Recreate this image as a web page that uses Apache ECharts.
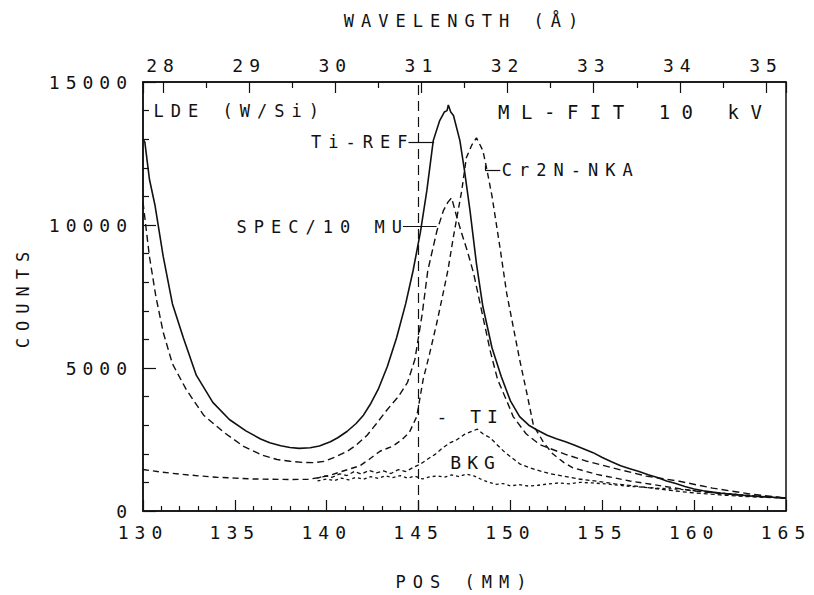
<!DOCTYPE html>
<html><head><meta charset="utf-8">
<script src="https://cdn.jsdelivr.net/npm/echarts@6.0.0/dist/echarts.min.js"></script>
<style>
html,body{margin:0;padding:0;background:#fff;}
#chart{width:814px;height:595px;}
#chart text{letter-spacing:6px;}
</style></head><body><div id="chart"></div>
<script>
// ---------------- data ----------------
const posTicks = [130, 135, 140, 145, 150, 155, 160, 165];
const wavelengthTicks = [28, 29, 30, 31, 32, 33, 34, 35];
const countTicks = [0, 5000, 10000, 15000];

const tiRefPos = [130, 130.1, 130.35, 130.65, 131.1, 131.6, 132.2, 132.9, 133.8, 134.7, 135.6, 136.4, 136.9, 137.5, 138, 138.5, 139.1, 139.6, 140.2, 140.6, 141.1, 141.6, 142, 142.4, 142.8, 143.3, 143.8, 144.3, 144.7, 145.1, 145.45, 145.8, 146.15, 146.4, 146.55, 146.62, 146.75, 146.9, 147.25, 147.5, 147.8, 148.15, 148.5, 149, 149.5, 150, 150.5, 151, 151.4, 152, 152.5, 153, 153.5, 154, 154.5, 155, 155.5, 156, 156.5, 157, 157.5, 158, 158.5, 159, 159.5, 160, 160.5, 161, 161.5, 162, 162.5, 163, 163.5, 164, 164.5, 165];
const tiRefCounts = [13000, 12900, 11600, 10700, 8900, 7250, 6050, 4750, 3800, 3200, 2800, 2520, 2390, 2280, 2220, 2190, 2210, 2270, 2420, 2560, 2780, 3060, 3350, 3760, 4250, 5050, 6050, 7250, 8400, 9750, 11200, 12950, 13650, 13950, 14000, 14200, 13950, 13830, 12950, 11900, 10500, 8650, 7150, 5700, 4700, 3850, 3300, 3000, 2850, 2650, 2530, 2420, 2300, 2170, 2040, 1870, 1720, 1580, 1480, 1380, 1270, 1170, 1050, 960, 860, 770, 710, 660, 620, 590, 560, 530, 510, 490, 470, 450];

const specPos = [130, 130.35, 130.7, 131.1, 131.6, 132.35, 133.3, 134.4, 135.5, 136.5, 137.3, 138, 138.7, 139.3, 139.9, 140.5, 141.1, 141.6, 142.2, 142.7, 143.3, 143.9, 144.4, 144.8, 145.2, 145.5, 146, 146.35, 146.6, 146.8, 147.05, 147.35, 147.65, 148, 148.4, 148.9, 149.3, 149.8, 150.15, 150.85, 151.6, 152.3, 153, 154.1, 155.6, 157.4, 159.2, 161, 163, 165];
const specCounts = [10800, 8900, 7500, 6250, 5150, 4250, 3350, 2750, 2250, 1950, 1800, 1740, 1700, 1690, 1740, 1900, 2080, 2300, 2650, 3050, 3550, 4000, 4500, 5300, 6900, 8400, 9800, 10500, 10800, 10950, 10350, 9700, 9100, 8300, 7100, 5600, 4600, 3850, 3300, 2700, 2320, 2150, 1980, 1750, 1500, 1220, 1040, 800, 600, 450];

const cr2nPos = [130, 131, 132, 133, 134, 135, 136, 137, 138, 139, 139.6, 140.2, 140.8, 141.3, 141.8, 142.3, 142.9, 143.6, 144.1, 144.5, 144.9, 145.25, 145.6, 146, 146.3, 146.6, 146.9, 147.35, 147.6, 147.9, 148.15, 148.5, 148.7, 149, 149.45, 149.8, 150.15, 150.5, 150.9, 151.25, 151.8, 152.3, 152.9, 153.4, 154.7, 156.5, 158.3, 160, 162, 163.5, 165];
const cr2nCounts = [1450, 1360, 1290, 1230, 1180, 1150, 1120, 1110, 1100, 1110, 1170, 1250, 1380, 1480, 1580, 1800, 2090, 2270, 2500, 2750, 3300, 4600, 5500, 6600, 7500, 8430, 9600, 11200, 12350, 12800, 13050, 12600, 12000, 11000, 9130, 7600, 6450, 5300, 4100, 3000, 2400, 2000, 1700, 1510, 1280, 1050, 870, 700, 580, 510, 450];

const tiPos = [139.5, 139.9, 140.3, 140.7, 141.1, 141.5, 141.9, 142.3, 142.7, 143.1, 143.5, 143.9, 144.3, 144.7, 145.1, 145.5, 145.9, 146.3, 146.7, 147.1, 147.5, 147.9, 148.2, 148.5, 148.9, 149.3, 149.7, 150.1, 150.5, 151, 151.6, 152.2, 152.9, 153.7, 154.7, 155.7, 156.7, 157.7, 158.7, 159.7, 160.7, 161.7, 162.7, 163.7, 164.5, 165];
const tiCounts = [1150, 1230, 1180, 1300, 1240, 1380, 1290, 1420, 1330, 1400, 1310, 1450, 1380, 1520, 1640, 1820, 1980, 2200, 2380, 2500, 2680, 2790, 2860, 2700, 2560, 2300, 2050, 1850, 1650, 1520, 1400, 1300, 1220, 1120, 1040, 950, 880, 800, 720, 650, 600, 550, 510, 480, 460, 440];

const bkgPos = [139.5, 140, 140.4, 140.8, 141.2, 141.6, 142, 142.4, 142.8, 143.2, 143.6, 144, 144.4, 144.8, 145.2, 145.6, 146, 146.4, 146.8, 147.2, 147.6, 148, 148.4, 148.8, 149.2, 149.6, 150, 150.5, 151, 151.5, 152, 152.6, 153.2, 153.8, 154.5, 155.3, 156.2, 157.2, 158.2, 159.2, 160.2, 161.2, 162.2, 163.2, 164.2, 165];
const bkgCounts = [1050, 1120, 1060, 1150, 1090, 1180, 1110, 1200, 1140, 1230, 1170, 1240, 1150, 1220, 1120, 1190, 1230, 1180, 1260, 1200, 1290, 1230, 1110, 1010, 930, 960, 880, 920, 870, 900, 940, 980, 950, 1000, 980, 940, 880, 830, 790, 760, 700, 640, 590, 540, 490, 460];

const markerPos = [145];

// ---------------- layout / style ----------------
const FONT = "'DejaVu Sans Mono', 'Liberation Mono', monospace";
const INK = '#111';
const posRange = [130, 165];
const wavelengthRange = [27.768, 35.232];
const countRange = [0, 15000];

const notes = [
  {text: 'LDE (W/Si)', at: [130.55, 14000], side: 'right', size: 17},
  {text: 'ML-FIT 10 kV', at: [149.3, 13950], side: 'right', size: 19},
  {text: 'Ti-REF', at: [144.8, 12905], side: 'left', size: 17},
  {text: 'SPEC/10 MU', at: [144.5, 9940], side: 'left', size: 17},
  {text: 'Cr2N-NKA', at: [149.5, 11910], side: 'right', size: 17},
  {text: '- TI', at: [145.95, 3315], side: 'right', size: 18},
  {text: 'BKG', at: [146.7, 1690], side: 'right', size: 18}
];
const leaders = [
  [[144.45, 12905], [145.85, 12905]],
  [[144.15, 9940], [145.98, 9940]],
  [[148.62, 12080], [148.62, 11910]],
  [[148.62, 11910], [149.45, 11910]]
];

function pairs(xs, ys) { return xs.map((x, i) => [x, ys[i]]); }

const chart = echarts.init(document.getElementById('chart'), null, {renderer: 'svg'});

const axisText = {color: INK, fontFamily: FONT, fontSize: 18};

function lineSeries(name, xs, ys, dash, width) {
  return {
    name, type: 'line', xAxisIndex: 0, yAxisIndex: 0,
    data: pairs(xs, ys), showSymbol: false, symbol: 'none', silent: true,
    lineStyle: {color: INK, width: width || 1.4, type: dash},
    emphasis: {disabled: true}
  };
}

const mainSeries = lineSeries('Ti-REF', tiRefPos, tiRefCounts, 'solid', 1.6);
mainSeries.markLine = {
  silent: true, symbol: 'none', animation: false,
  label: {show: false},
  data: markerPos.map(p => ({xAxis: p, lineStyle: {color: INK, width: 1.2, type: [10, 6]}}))
    .concat(leaders.map(seg => [
      {coord: seg[0], lineStyle: {color: INK, width: 1.2, type: 'solid'}},
      {coord: seg[1]}
    ]))
};
mainSeries.markPoint = {
  silent: true, animation: false,
  symbol: 'circle', symbolSize: 1,
  itemStyle: {color: 'rgba(0,0,0,0)'},
  data: notes.map(n => ({
    coord: n.at, value: n.text,
    label: {
      show: true, position: n.side, distance: 0,
      formatter: n.text, color: INK, fontFamily: FONT, fontSize: n.size
    }
  }))
};

chart.setOption({
  animation: false,
  backgroundColor: '#fff',
  grid: {left: 143, right: 28, top: 82, bottom: 83, show: true, borderColor: INK, borderWidth: 1.5, backgroundColor: 'transparent'},
  xAxis: [
    {
      type: 'value', position: 'bottom', min: posRange[0], max: posRange[1], interval: 5,
      name: 'POS (MM)', nameLocation: 'middle', nameGap: 62,
      nameTextStyle: {color: INK, fontFamily: FONT, fontSize: 17},
      axisLine: {show: true, lineStyle: {color: INK, width: 1.5}},
      axisTick: {show: true, inside: true, length: 11, lineStyle: {color: INK, width: 1.2}},
      minorTick: {show: true, splitNumber: 5, length: 5, lineStyle: {color: INK, width: 1.2}},
      splitLine: {show: false},
      axisLabel: Object.assign({margin: 12, formatter: v => posTicks.includes(v) ? String(v) : ''}, axisText)
    },
    {
      type: 'value', position: 'top', min: wavelengthRange[0], max: wavelengthRange[1], splitNumber: 7,
      name: 'WAVELENGTH (Å)', nameLocation: 'middle', nameGap: 53,
      nameTextStyle: {color: INK, fontFamily: FONT, fontSize: 17},
      axisLine: {show: true, lineStyle: {color: INK, width: 1.5}},
      axisTick: {show: true, inside: true, length: 11, lineStyle: {color: INK, width: 1.2}},
      minorTick: {show: true, splitNumber: 2, length: 6, lineStyle: {color: INK, width: 1.2}},
      splitLine: {show: false},
      axisLabel: Object.assign({margin: 8, showMinLabel: false, showMaxLabel: false,
        formatter: v => wavelengthTicks.includes(v) ? String(v) : ''}, axisText)
    }
  ],
  yAxis: [
    {
      type: 'value', min: countRange[0], max: countRange[1], interval: 5000,
      name: 'COUNTS', nameLocation: 'middle', nameGap: 112,
      nameTextStyle: {color: INK, fontFamily: FONT, fontSize: 17},
      axisLine: {show: true, lineStyle: {color: INK, width: 1.5}},
      axisTick: {show: true, inside: true, length: 13, lineStyle: {color: INK, width: 1.2}},
      minorTick: {show: true, splitNumber: 5, length: 6, lineStyle: {color: INK, width: 1.2}},
      splitLine: {show: false},
      axisLabel: Object.assign({margin: 10, formatter: v => countTicks.includes(v) ? String(v) : ''}, axisText)
    }
  ],
  series: [
    mainSeries,
    lineSeries('SPEC/10 MU', specPos, specCounts, [7, 4], 1.4),
    lineSeries('Cr2N-NKA', cr2nPos, cr2nCounts, [6, 4], 1.4),
    lineSeries('TI', tiPos, tiCounts, [4, 3], 1.3),
    lineSeries('BKG', bkgPos, bkgCounts, [3, 3], 1.3)
  ]
});

function applySpacing() {
  document.querySelectorAll('#chart svg text').forEach(t => {
    const s = t.textContent || '';
    if (s.indexOf('ML-FIT') >= 0) t.style.letterSpacing = '11.5px';
    else if (s.indexOf('WAVELENGTH') >= 0 || s.indexOf('POS') >= 0 || s.indexOf('COUNTS') >= 0) t.style.letterSpacing = '7px';
    else if (s === 'LDE (W/Si)' || s === 'Ti-REF' || s === 'SPEC/10 MU' || s === 'Cr2N-NKA') t.style.letterSpacing = '7px';
  });
}
applySpacing();
chart.on('finished', applySpacing);
</script></body></html>
